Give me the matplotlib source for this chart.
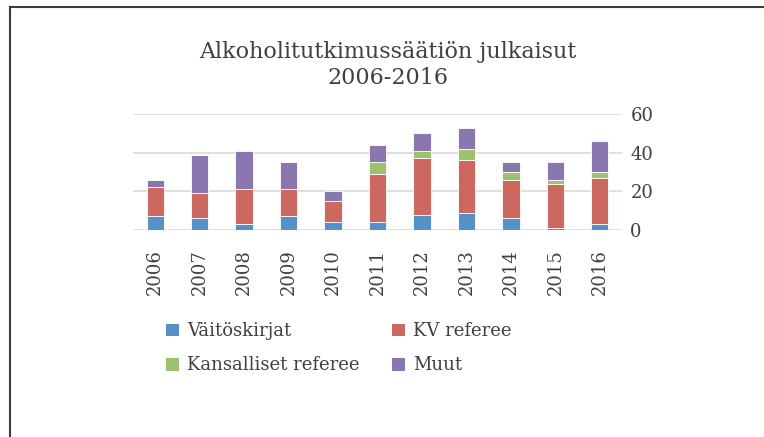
import numpy as np
import matplotlib.pyplot as plt
from matplotlib.patches import Patch
from matplotlib.lines import Line2D

years = ['2006', '2007', '2008', '2009', '2010', '2011', '2012', '2013', '2014', '2015', '2016']
vaitoskirjat = [7, 6, 3, 7, 4, 4, 8, 9, 6, 1, 3]
kv_referee = [15, 13, 18, 14, 11, 25, 29, 27, 20, 23, 24]
kansalliset = [0, 0, 0, 0, 0, 6, 4, 6, 4, 2, 3]
muut = [4, 20, 20, 14, 5, 9, 9, 11, 5, 9, 16]

series = [
    ('Väitöskirjat', vaitoskirjat, '#5591c6'),
    ('KV referee', kv_referee, '#cc6860'),
    ('Kansalliset referee', kansalliset, '#9dc26e'),
    ('Muut', muut, '#8b77b0'),
]

plt.rcParams['font.family'] = 'DejaVu Serif'
txt = '#404040'

fig = plt.figure(figsize=(7.64, 4.37), dpi=100)
ax = fig.add_axes([133 / 764, 1 - 230 / 437, 489 / 764, 116 / 437])

x = np.arange(len(years))
bottom = np.zeros(len(years))
for name, vals, col in series:
    ax.bar(x, vals, width=0.39, bottom=bottom, color=col, edgecolor='white',
           linewidth=0.6, zorder=3, label=name)
    bottom += np.array(vals)

ax.set_xlim(-0.5, len(years) - 0.5)
ax.set_ylim(0, 60)
ax.set_yticks([0, 20, 40, 60])
ax.yaxis.tick_right()
ax.grid(axis='y', color='#d9d9d9', linewidth=1.2, zorder=0)
for s in ax.spines.values():
    s.set_visible(False)
ax.tick_params(axis='both', length=0, labelsize=13, colors=txt)
ax.tick_params(axis='x', pad=14)
ax.tick_params(axis='y', pad=6)
ax.set_xticks(x)
ax.set_xticklabels(years, rotation=90)

fig.text(388 / 764, 1 - 65 / 437, 'Alkoholitutkimussäätiön julkaisut\n2006-2016',
         ha='center', va='center', fontsize=16, color=txt, linespacing=1.2)

# legend filled column by column, so order gives rows V/KV, Kansalliset/Muut
order = [0, 2, 1, 3]
handles = [Patch(facecolor=series[i][2], edgecolor='none') for i in order]
labels = [series[i][0] for i in order]
fig.legend(handles, labels, ncol=2, loc='upper left',
           bbox_to_anchor=(150 / 764, 1 - 306 / 437), frameon=False,
           fontsize=13, labelcolor=txt, handlelength=0.7, handleheight=0.7,
           handletextpad=0.45, columnspacing=1.8, labelspacing=0.9)

# frame lines on left and top
fig.add_artist(Line2D([10 / 764, 10 / 764], [0, 1 - 7 / 437], color='#3a3a3a', lw=1.5))
fig.add_artist(Line2D([10 / 764, 1], [1 - 7 / 437, 1 - 7 / 437], color='#3a3a3a', lw=1.5))

fig.savefig('out.png', dpi=100)
